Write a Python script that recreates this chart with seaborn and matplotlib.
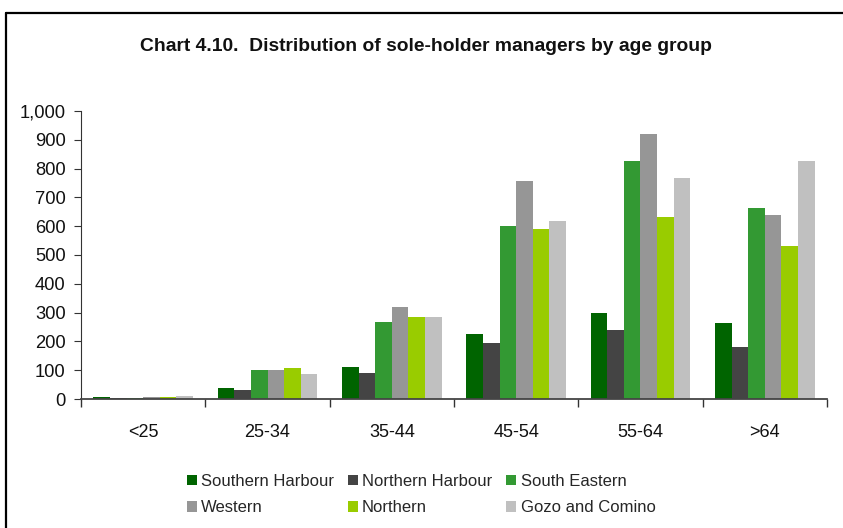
import matplotlib
matplotlib.use("Agg")
import matplotlib.pyplot as plt
from matplotlib.lines import Line2D
from matplotlib.ticker import FuncFormatter, FixedLocator
import seaborn as sns
import pandas as pd

age_groups = ["<25", "25-34", "35-44", "45-54", "55-64", ">64"]
regions = ["Southern Harbour", "Northern Harbour", "South Eastern",
           "Western", "Northern", "Gozo and Comino"]

southern_harbour = [8, 39, 112, 227, 300, 265]
northern_harbour = [4, 32, 92, 195, 241, 182]
south_eastern = [5, 102, 268, 602, 827, 664]
western = [8, 102, 321, 758, 921, 640]
northern = [8, 109, 283, 591, 633, 532]
gozo_and_comino = [11, 88, 286, 619, 769, 827]

colors = ["#006400", "#444444", "#339933", "#969696", "#99CC00", "#C0C0C0"]

series = [southern_harbour, northern_harbour, south_eastern,
          western, northern, gozo_and_comino]
rows = []
for region, vals in zip(regions, series):
    for age, v in zip(age_groups, vals):
        rows.append({"Age group": age, "Region": region, "Managers": v})
df = pd.DataFrame(rows)

sns.set_style("white")
plt.rcParams["font.family"] = ["Liberation Sans", "DejaVu Sans"]

fig = plt.figure(figsize=(8.43, 5.28), dpi=100)
ax = fig.add_axes([0.0961, 0.2443, 0.981 - 0.0961, 0.7898 - 0.2443])

sns.barplot(data=df, x="Age group", y="Managers", hue="Region",
            order=age_groups, hue_order=regions, palette=colors,
            saturation=1, width=0.8, linewidth=0, edgecolor="none",
            ax=ax, legend=True)

ax.set_ylim(0, 1000)
ax.set_xlim(-0.5, 5.5)
ax.set_yticks(range(0, 1001, 100))
ax.yaxis.set_major_formatter(FuncFormatter(lambda v, p: f"{int(v):,}"))
ax.set_xlabel("")
ax.set_ylabel("")

ax.xaxis.set_minor_locator(FixedLocator([i - 0.5 for i in range(7)]))
ax.tick_params(axis="x", which="major", bottom=True, length=0, pad=18,
               labelsize=13, colors="#111111")
ax.tick_params(axis="x", which="minor", bottom=True, length=6, width=1,
               color="#333333", direction="out")
ax.tick_params(axis="y", which="major", left=True, length=5, width=0.8,
               color="#333333", direction="out", labelsize=13.2, pad=6,
               labelcolor="#111111")

for side in ("top", "right"):
    ax.spines[side].set_visible(False)
ax.spines["left"].set_color("#333333")
ax.spines["left"].set_linewidth(0.8)
ax.spines["bottom"].set_color("#444444")
ax.spines["bottom"].set_linewidth(1.3)

handles, labels = ax.get_legend_handles_labels()
ax.legend_.remove()
# legend fills column by column; reorder so entries read across rows
order = [0, 3, 1, 4, 2, 5]
fig.legend([handles[i] for i in order], [labels[i] for i in order],
           ncol=3, loc="center", bbox_to_anchor=(0.4994, 0.0634),
           frameon=False, fontsize=12, handlelength=0.6, handleheight=0.6,
           handletextpad=0.25, columnspacing=0.85, labelspacing=0.68)

fig.text(0.505, 0.911, "Chart 4.10.  Distribution of sole-holder managers by age group",
         ha="center", va="center", fontsize=13.9, fontweight="bold", color="#111111")

# page frame
fig.add_artist(Line2D([0.0075, 1.0], [1 - 12.5 / 528, 1 - 12.5 / 528],
                      transform=fig.transFigure, color="black", linewidth=1.6))
fig.add_artist(Line2D([0.0075, 0.0075], [0.0, 1 - 12.5 / 528],
                      transform=fig.transFigure, color="black", linewidth=1.6))

fig.savefig("out.png", dpi=100, facecolor="white")
